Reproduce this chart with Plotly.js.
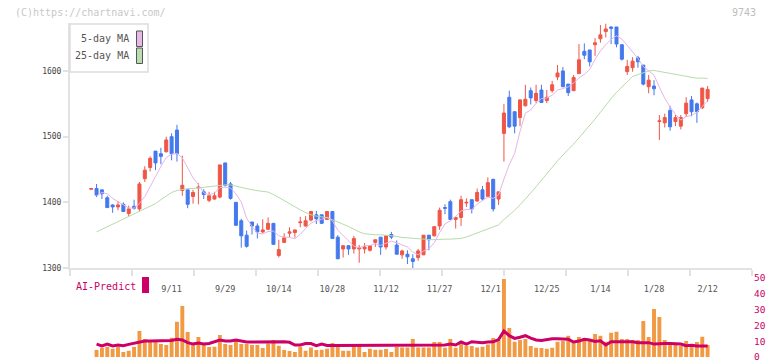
<!DOCTYPE html>
<html>
<head>
<meta charset="utf-8">
<script src="https://cdn.plot.ly/plotly-3.0.1.min.js"></script>
<style>html,body{margin:0;padding:0;background:#fff;}#chart{width:772px;height:361px;}</style>
</head>
<body>
<div id="chart"></div>
<script>
// ---- data ----
const dates = ['8/21','8/22','8/25','8/26','8/27','8/28','8/29','9/1','9/2','9/3','9/4','9/5','9/8','9/9','9/10','9/11','9/12','9/16','9/17','9/18','9/19','9/22','9/24','9/25','9/26','9/29','9/30','10/1','10/2','10/3','10/6','10/7','10/8','10/9','10/10','10/14','10/15','10/16','10/17','10/20','10/21','10/22','10/23','10/24','10/27','10/28','10/29','10/30','10/31','11/4','11/5','11/6','11/7','11/10','11/11','11/12','11/13','11/14','11/17','11/18','11/19','11/20','11/21','11/25','11/26','11/27','11/28','12/1','12/2','12/3','12/4','12/5','12/8','12/9','12/10','12/11','12/12','12/15','12/16','12/17','12/18','12/19','12/22','12/23','12/24','12/25','12/26','12/29','12/30','1/5','1/6','1/7','1/8','1/9','1/13','1/14','1/15','1/16','1/19','1/20','1/21','1/22','1/23','1/26','1/27','1/28','1/29','1/30','2/2','2/3','2/4','2/5','2/6','2/9','2/10','2/12'];

const opens = [1420,1421,1419,1407,1396,1393,1397,1383,1394,1390,1436,1453,1478,1474,1477,1500,1510,1418,1419,1409,1422,1416,1403,1405,1408,1460,1428,1400,1372,1350,1370,1364,1355,1359,1368,1319,1339,1353,1354,1369,1364,1373,1381,1381,1374,1386,1347,1329,1334,1329,1329,1329,1327,1339,1347,1332,1351,1335,1320,1321,1314,1316,1320,1350,1349,1364,1392,1401,1374,1377,1399,1404,1402,1419,1409,1435,1405,1505,1560,1538,1529,1547,1570,1555,1571,1555,1570,1591,1600,1580,1570,1596,1630,1632,1640,1649,1660,1667,1667,1640,1599,1605,1620,1609,1576,1577,1523,1521,1540,1523,1516,1535,1556,1550,1544,1558];
const highs = [1422,1428,1419,1410,1397,1402,1400,1395,1404,1431,1455,1470,1478,1483,1500,1505,1518,1471,1419,1419,1429,1420,1416,1416,1457,1460,1431,1400,1375,1357,1370,1368,1374,1377,1368,1343,1353,1362,1358,1378,1379,1387,1387,1381,1386,1386,1350,1334,1334,1349,1335,1338,1334,1343,1347,1349,1355,1342,1328,1327,1321,1329,1350,1350,1363,1392,1397,1404,1378,1410,1406,1404,1421,1425,1438,1436,1416,1550,1570,1538,1557,1579,1575,1579,1579,1571,1585,1609,1606,1580,1594,1641,1642,1632,1650,1670,1672,1668,1667,1641,1617,1621,1623,1609,1594,1586,1533,1535,1547,1533,1533,1560,1562,1552,1574,1577];
const lows = [1419,1408,1405,1392,1384,1388,1386,1379,1389,1387,1431,1447,1449,1458,1476,1464,1462,1410,1391,1398,1397,1405,1400,1404,1406,1424,1404,1364,1331,1331,1351,1345,1353,1358,1336,1316,1338,1347,1346,1362,1363,1371,1367,1367,1373,1345,1314,1316,1320,1322,1308,1322,1325,1332,1320,1328,1344,1321,1314,1306,1299,1311,1320,1327,1348,1358,1382,1373,1360,1364,1393,1383,1401,1402,1409,1386,1396,1462,1513,1505,1516,1546,1549,1551,1552,1551,1567,1586,1576,1562,1570,1596,1618,1607,1623,1643,1651,1641,1636,1616,1594,1599,1605,1578,1566,1563,1495,1514,1509,1516,1511,1530,1531,1521,1542,1553];
const closes = [1421,1411,1413,1392,1393,1396,1386,1390,1391,1428,1449,1467,1460,1470,1495,1474,1474,1426,1397,1415,1423,1412,1410,1410,1457,1426,1406,1365,1349,1333,1364,1355,1358,1368,1336,1328,1346,1355,1358,1370,1372,1386,1375,1368,1386,1345,1314,1334,1329,1345,1331,1332,1334,1343,1332,1349,1347,1321,1326,1317,1310,1326,1350,1343,1363,1388,1391,1374,1377,1404,1400,1390,1415,1405,1430,1390,1416,1536,1515,1516,1556,1557,1559,1566,1552,1560,1579,1597,1576,1567,1590,1617,1624,1614,1643,1655,1664,1665,1641,1618,1607,1615,1614,1580,1586,1573,1524,1529,1515,1529,1529,1551,1538,1538,1574,1572];

const ma5 = [null,1410,1415,1413,1406.0,1401.0,1396.0,1391.4,1391.2,1398.2,1408.8,1425.0,1439.0,1454.8,1468.2,1473.2,1474.6,1467.8,1453.2,1437.2,1427.0,1414.6,1411.4,1414.0,1422.4,1423.0,1421.8,1412.8,1400.6,1375.8,1363.4,1353.2,1351.8,1355.6,1356.2,1349.0,1347.2,1346.6,1344.6,1351.4,1360.2,1368.2,1372.2,1374.2,1377.4,1372.0,1357.6,1349.4,1341.6,1333.4,1330.6,1334.2,1334.2,1337.0,1334.4,1338.0,1341.0,1338.4,1335.0,1332.0,1324.2,1320.0,1325.8,1329.2,1338.4,1354.0,1367.0,1371.8,1378.6,1386.8,1389.2,1389.0,1397.2,1402.8,1408.0,1406.0,1411.2,1435.4,1457.4,1474.6,1507.8,1536.0,1540.6,1550.8,1558.0,1558.8,1563.2,1570.8,1572.8,1575.8,1581.8,1589.4,1594.8,1602.4,1617.6,1630.6,1640.0,1648.2,1653.6,1648.6,1639.0,1629.2,1619.0,1606.8,1600.4,1593.6,1575.4,1558.4,1545.4,1534.0,1525.2,1530.6,1532.4,1537.0,1546.0,1554.6];
const ma25 = [null,1355,1359,1363,1367,1371,1374,1378,1383,1386,1390,1394,1398,1404,1410,1415,1418,1420,1421,1421,1422,1423,1424,1425,1426.4,1426.6,1426.4,1424.5,1422.8,1420.4,1419.1,1417.8,1416.6,1415.6,1412.0,1407.1,1402.3,1398.1,1393.6,1388.6,1384.5,1381.0,1379.0,1377.8,1376.6,1373.5,1369.6,1366.6,1363.3,1358.8,1355.0,1352.1,1350.8,1350.6,1350.6,1350.0,1349.6,1348.2,1346.5,1345.7,1345.0,1344.2,1344.0,1343.4,1343.1,1343.8,1344.0,1343.9,1344.3,1345.0,1347.2,1350.2,1353.5,1356.5,1359.9,1362.3,1365.6,1373.7,1380.6,1388.0,1396.2,1404.6,1414.2,1423.8,1433.2,1443.2,1453.3,1463.2,1472.5,1480.6,1488.7,1497.8,1507.8,1517.2,1526.8,1537.0,1548.0,1558.0,1567.4,1574.9,1583.6,1591.6,1594.7,1597.3,1600.1,1600.8,1599.4,1598.2,1596.2,1595.3,1594.0,1592.9,1590.6,1589.0,1589.3,1588.6];

const volume = [null,4.4,5.9,6.5,5.3,6.5,3.2,4.0,6.3,16.5,11.4,9.7,9.7,8.2,7.6,12.2,22.4,32.3,15.8,9.1,12.7,8.2,6.3,6.5,13.9,8.2,7.6,10.1,8.2,8.2,7.6,7.6,5.7,8.6,10.8,7.2,4.4,3.8,3.2,6.5,4.0,6.1,4.4,4.6,5.3,8.9,7.6,4.0,4.0,8.2,8.2,3.2,5.3,4.6,4.6,5.1,3.2,6.3,6.1,6.1,11.4,6.1,6.1,6.1,9.5,9.5,5.9,11.4,5.9,8.6,7.2,7.0,6.1,6.5,8.0,12.0,11.0,49.4,18.4,9.7,10.8,11.4,7.0,5.9,5.7,5.3,5.9,9.7,10.1,13.5,9.9,12.7,12.0,10.8,14.6,13.5,9.7,15.4,16.0,11.4,11.4,10.8,10.8,22.8,12.7,30.4,25.3,10.8,8.2,8.2,7.2,10.1,7.2,9.5,12.8,7.6];
const aiPredict = [null,8.2,7.0,8.2,7.0,7.6,7.2,8.0,8.6,9.3,10.1,10.1,10.1,10.1,10.1,10.5,11.2,10.8,9.1,8.2,8.8,8.2,8.6,9.5,10.8,10.1,10.1,10.8,10.1,9.5,9.5,9.5,9.5,9.9,9.9,9.9,9.6,9.3,7.6,7.6,8.5,8.5,7.2,8.2,7.3,7.3,7.3,7.3,7.3,7.3,7.3,7.3,7.3,7.3,7.3,7.3,7.3,7.3,7.3,7.3,7.3,7.3,7.3,7.3,7.3,7.6,7.6,8.2,7.6,9.5,8.2,9.7,9.3,9.1,9.5,9.6,11.0,16.5,13.5,11.8,12.5,13.5,12.0,10.8,10.5,11.2,11.6,11.6,11.6,11.2,9.5,10.1,11.2,10.8,9.9,10.3,7.6,9.7,9.7,9.7,9.7,9.7,9.1,9.1,9.1,8.2,8.6,8.6,8.6,8.2,8.2,7.2,7.4,7.0,7.0,7.0];

const tickLabels = ['9/11','9/29','10/14','10/28','11/12','11/27','12/11','12/25','1/14','1/28','2/12'];
const priceTicks = [1300,1400,1500,1600];
const volTicks = [0,10,20,30,40,50];
const legendNames = ['5-day MA','25-day MA'];

// ---- build ----
const xIdx = dates.map((d, i) => i);
const tickIdx = tickLabels.map(l => dates.indexOf(l));

const UP = '#f05646', DOWN = '#4479ee';
const MONO = 'DejaVu Sans Mono, monospace';

const data = [
  {type:'scatter', mode:'lines', x:xIdx, y:ma25, xaxis:'x', yaxis:'y',
   line:{color:'#b6dcab', width:1}, hoverinfo:'skip', connectgaps:false},
  {type:'scatter', mode:'lines', x:xIdx, y:ma5, xaxis:'x', yaxis:'y',
   line:{color:'#e6b5ea', width:1}, hoverinfo:'skip', connectgaps:false},
  {type:'candlestick', x:xIdx, open:opens, high:highs, low:lows, close:closes,
   xaxis:'x', yaxis:'y', whiskerwidth:0,
   increasing:{line:{color:UP, width:1}, fillcolor:UP},
   decreasing:{line:{color:DOWN, width:1}, fillcolor:DOWN}},
  {type:'bar', x:xIdx, y:volume, xaxis:'x2', yaxis:'y2',
   marker:{color:'#f19a43', line:{width:0}}},
  {type:'scatter', mode:'lines', x:xIdx, y:aiPredict, xaxis:'x2', yaxis:'y2',
   line:{color:'#cc0066', width:3}}
];

const W = 772, H = 361, L = 70, R = 20;
const pw = W - L - R;
const px = v => (v - L) / pw;        // paper x from pixel
const py = v => (H - v) / H;         // paper y from pixel

const xRange = [-3.955, 123.28];

const layout = {
  width: W, height: H,
  margin: {l:L, r:R, t:0, b:0, pad:0},
  paper_bgcolor:'#ffffff', plot_bgcolor:'#ffffff',
  showlegend:false, hovermode:false,
  boxgap:0.2, bargap:0.27,
  font:{family:MONO, color:'#555'},
  xaxis:{
    domain:[0,1], anchor:'y', range:xRange, fixedrange:true,
    rangeslider:{visible:false},
    showgrid:false, zeroline:false,
    showline:true, linecolor:'#e2e2e2', linewidth:2,
    tickmode:'array', tickvals:tickIdx, ticktext:tickLabels,
    ticks:'', ticklabelstandoff:12,
    tickfont:{family:MONO, size:8.5, color:'#555'},
    minor:{ticks:'outside', ticklen:6, tickwidth:2, tickcolor:'#e2e2e2',
           tickmode:'linear', tick0:xRange[0], dtick:(xRange[1]-xRange[0])/11, showgrid:false}
  },
  yaxis:{
    domain:[py(268), py(23)], anchor:'x', range:[1300, 1300 + 245/0.6567], fixedrange:true,
    showgrid:false, zeroline:false,
    showline:true, linecolor:'#e2e2e2', linewidth:2,
    tickmode:'array', tickvals:priceTicks, ticktext:priceTicks.map(String),
    ticks:'outside', ticklen:5, tickwidth:2, tickcolor:'#e2e2e2',
    tickfont:{family:MONO, size:8, color:'#444'}
  },
  xaxis2:{
    domain:[0,1], anchor:'y2', range:xRange, fixedrange:true,
    showgrid:false, zeroline:false, showline:false, showticklabels:false, ticks:''
  },
  yaxis2:{
    domain:[py(357.2), py(278)], anchor:'x2', side:'right', range:[-0.1, 50], fixedrange:true,
    showgrid:false, zeroline:false, showline:false, ticks:'',
    tickmode:'array', tickvals:volTicks, ticktext:volTicks.map(String),
    ticklabelstandoff:1, ticklabeloverflow:'allow', ticklabelshift:2.5,
    tickfont:{family:MONO, size:9.5, color:'#cc0066'}
  },
  shapes:[
    {type:'rect', xref:'paper', yref:'paper', x0:px(70), x1:px(148), y0:py(72), y1:py(24),
     line:{color:'#dddddd', width:1.5}, fillcolor:'#ffffff', layer:'above'},
    {type:'rect', xref:'paper', yref:'paper', x0:px(136.5), x1:px(142.5), y0:py(46.5), y1:py(31),
     line:{color:'#555', width:1}, fillcolor:'#e8b8e8', layer:'above'},
    {type:'rect', xref:'paper', yref:'paper', x0:px(136.5), x1:px(142.5), y0:py(63.5), y1:py(48),
     line:{color:'#555', width:1}, fillcolor:'#b8ddb0', layer:'above'},
    {type:'rect', xref:'paper', yref:'paper', x0:px(142), x1:px(149), y0:py(293), y1:py(277),
     line:{width:0}, fillcolor:'#cc0066', layer:'above'}
  ],
  annotations:[
    {xref:'paper', yref:'paper', x:px(13), y:py(12), xanchor:'left', yanchor:'middle',
     text:'(C)https://chartnavi.com/', showarrow:false,
     font:{family:MONO, size:10, color:'#c8c8c8'}},
    {xref:'paper', yref:'paper', x:px(758), y:py(12), xanchor:'right', yanchor:'middle',
     text:'9743', showarrow:false, font:{family:MONO, size:10, color:'#bdbdbd'}},
    {xref:'paper', yref:'paper', x:px(131), y:py(39), xanchor:'right', yanchor:'middle',
     text:legendNames[0], showarrow:false, font:{family:MONO, size:10, color:'#555'}},
    {xref:'paper', yref:'paper', x:px(131), y:py(56), xanchor:'right', yanchor:'middle',
     text:legendNames[1], showarrow:false, font:{family:MONO, size:10, color:'#555'}},
    {xref:'paper', yref:'paper', x:px(74), y:py(286), xanchor:'left', yanchor:'middle',
     text:'AI-Predict', showarrow:false, font:{family:MONO, size:10, color:'#cc0066'}}
  ]
};

Plotly.newPlot('chart', data, layout, {staticPlot:true, displayModeBar:false});
</script>
</body>
</html>
